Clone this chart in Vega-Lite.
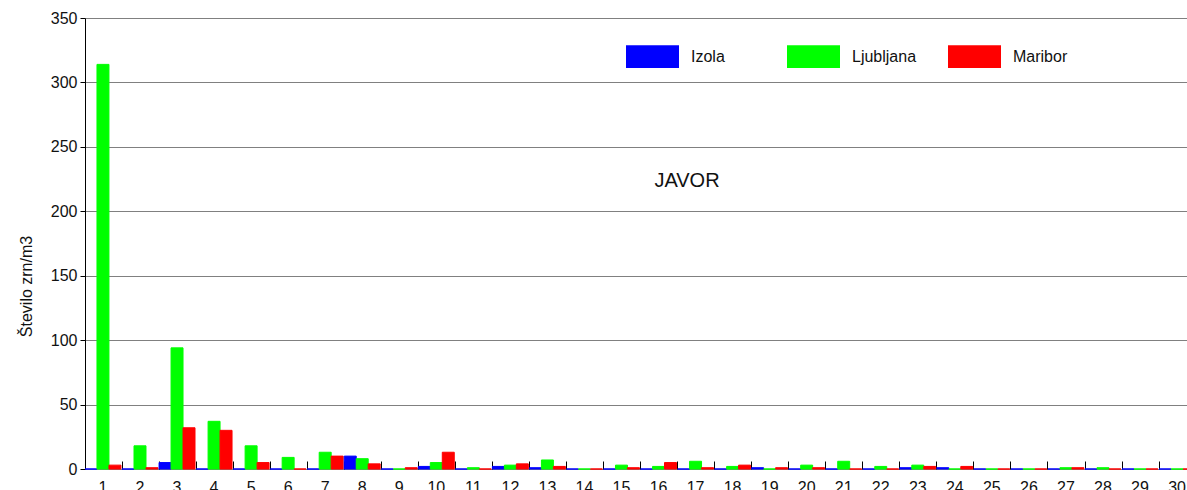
{
  "$schema": "https://vega.github.io/schema/vega-lite/v6.json",
  "autosize": "none",
  "width": 1110,
  "height": 451,
  "padding": {"left": 85, "top": 18, "right": 0, "bottom": 21},
  "background": "white",
  "title": {
    "text": "JAVOR",
    "font": "Liberation Sans",
    "fontSize": 20,
    "fontWeight": "normal",
    "color": "#111111",
    "anchor": "middle",
    "frame": "group",
    "orient": "top",
    "baseline": "alphabetic",
    "offset": 0,
    "dx": 47,
    "dy": 197
  },
  "data": {
    "values": [
      {"day": 1, "city": "Izola", "value": 0}, {"day": 1, "city": "Ljubljana", "value": 314}, {"day": 1, "city": "Maribor", "value": 3},
      {"day": 2, "city": "Izola", "value": 0}, {"day": 2, "city": "Ljubljana", "value": 18}, {"day": 2, "city": "Maribor", "value": 1},
      {"day": 3, "city": "Izola", "value": 5}, {"day": 3, "city": "Ljubljana", "value": 94}, {"day": 3, "city": "Maribor", "value": 32},
      {"day": 4, "city": "Izola", "value": 0}, {"day": 4, "city": "Ljubljana", "value": 37}, {"day": 4, "city": "Maribor", "value": 30},
      {"day": 5, "city": "Izola", "value": 0}, {"day": 5, "city": "Ljubljana", "value": 18}, {"day": 5, "city": "Maribor", "value": 5},
      {"day": 6, "city": "Izola", "value": 0}, {"day": 6, "city": "Ljubljana", "value": 9}, {"day": 6, "city": "Maribor", "value": 0},
      {"day": 7, "city": "Izola", "value": 0}, {"day": 7, "city": "Ljubljana", "value": 13}, {"day": 7, "city": "Maribor", "value": 10},
      {"day": 8, "city": "Izola", "value": 10}, {"day": 8, "city": "Ljubljana", "value": 8}, {"day": 8, "city": "Maribor", "value": 4},
      {"day": 9, "city": "Izola", "value": 0}, {"day": 9, "city": "Ljubljana", "value": 0}, {"day": 9, "city": "Maribor", "value": 1},
      {"day": 10, "city": "Izola", "value": 2}, {"day": 10, "city": "Ljubljana", "value": 5}, {"day": 10, "city": "Maribor", "value": 13},
      {"day": 11, "city": "Izola", "value": 0}, {"day": 11, "city": "Ljubljana", "value": 1}, {"day": 11, "city": "Maribor", "value": 0},
      {"day": 12, "city": "Izola", "value": 2}, {"day": 12, "city": "Ljubljana", "value": 3}, {"day": 12, "city": "Maribor", "value": 4},
      {"day": 13, "city": "Izola", "value": 1}, {"day": 13, "city": "Ljubljana", "value": 7}, {"day": 13, "city": "Maribor", "value": 2},
      {"day": 14, "city": "Izola", "value": 0}, {"day": 14, "city": "Ljubljana", "value": 0}, {"day": 14, "city": "Maribor", "value": 0},
      {"day": 15, "city": "Izola", "value": 0}, {"day": 15, "city": "Ljubljana", "value": 3}, {"day": 15, "city": "Maribor", "value": 1},
      {"day": 16, "city": "Izola", "value": 0}, {"day": 16, "city": "Ljubljana", "value": 2}, {"day": 16, "city": "Maribor", "value": 5},
      {"day": 17, "city": "Izola", "value": 0}, {"day": 17, "city": "Ljubljana", "value": 6}, {"day": 17, "city": "Maribor", "value": 1},
      {"day": 18, "city": "Izola", "value": 0}, {"day": 18, "city": "Ljubljana", "value": 2}, {"day": 18, "city": "Maribor", "value": 3},
      {"day": 19, "city": "Izola", "value": 1}, {"day": 19, "city": "Ljubljana", "value": 0}, {"day": 19, "city": "Maribor", "value": 1},
      {"day": 20, "city": "Izola", "value": 0}, {"day": 20, "city": "Ljubljana", "value": 3}, {"day": 20, "city": "Maribor", "value": 1},
      {"day": 21, "city": "Izola", "value": 0}, {"day": 21, "city": "Ljubljana", "value": 6}, {"day": 21, "city": "Maribor", "value": 0},
      {"day": 22, "city": "Izola", "value": 0}, {"day": 22, "city": "Ljubljana", "value": 2}, {"day": 22, "city": "Maribor", "value": 0},
      {"day": 23, "city": "Izola", "value": 1}, {"day": 23, "city": "Ljubljana", "value": 3}, {"day": 23, "city": "Maribor", "value": 2},
      {"day": 24, "city": "Izola", "value": 1}, {"day": 24, "city": "Ljubljana", "value": 0}, {"day": 24, "city": "Maribor", "value": 2},
      {"day": 25, "city": "Izola", "value": 0}, {"day": 25, "city": "Ljubljana", "value": 0}, {"day": 25, "city": "Maribor", "value": 0},
      {"day": 26, "city": "Izola", "value": 0}, {"day": 26, "city": "Ljubljana", "value": 0}, {"day": 26, "city": "Maribor", "value": 0},
      {"day": 27, "city": "Izola", "value": 0}, {"day": 27, "city": "Ljubljana", "value": 1}, {"day": 27, "city": "Maribor", "value": 1},
      {"day": 28, "city": "Izola", "value": 0}, {"day": 28, "city": "Ljubljana", "value": 1}, {"day": 28, "city": "Maribor", "value": 0},
      {"day": 29, "city": "Izola", "value": 0}, {"day": 29, "city": "Ljubljana", "value": 0}, {"day": 29, "city": "Maribor", "value": 0},
      {"day": 30, "city": "Izola", "value": 0}, {"day": 30, "city": "Ljubljana", "value": 0}, {"day": 30, "city": "Maribor", "value": 0}
    ]
  },
  "mark": {"type": "bar", "strokeWidth": 1},
  "encoding": {
    "x": {
      "field": "day",
      "type": "ordinal",
      "scale": {"paddingInner": 0.03, "paddingOuter": 0},
      "axis": {
        "title": null,
        "labelAngle": 0,
        "domain": false,
        "ticks": true,
        "tickSize": -8,
        "tickColor": "#000000",
        "tickWidth": 1,
        "bandPosition": 0,
        "labelPadding": 18,
        "labelBaseline": "top",
        "labelDx": -2,
        "labelFont": "Liberation Sans",
        "labelFontSize": 16,
        "labelColor": "#111111",
        "grid": false
      }
    },
    "xOffset": {"field": "city", "type": "nominal", "scale": {"padding": 0}},
    "y": {
      "field": "value",
      "type": "quantitative",
      "scale": {"domain": [0, 350], "nice": false},
      "axis": {
        "values": [0, 50, 100, 150, 200, 250, 300, 350],
        "title": "Število zrn/m3",
        "titleFont": "Liberation Sans",
        "titleFontSize": 16,
        "titleFontWeight": "normal",
        "titleColor": "#111111",
        "titleX": -54,
        "titleY": 268,
        "titleAngle": -90,
        "titleAlign": "center",
        "titleBaseline": "alphabetic",
        "labelFont": "Liberation Sans",
        "labelFontSize": 16,
        "labelColor": "#111111",
        "labelPadding": 3,
        "tickSize": 5,
        "tickColor": "#000000",
        "domainColor": "#000000",
        "grid": true,
        "gridColor": "#808080",
        "gridWidth": 1
      }
    },
    "color": {
      "field": "city",
      "type": "nominal",
      "scale": {"domain": ["Izola", "Ljubljana", "Maribor"], "range": ["#0000ff", "#00ff00", "#ff0000"]},
      "legend": {
        "title": null,
        "orient": "none",
        "legendX": 541,
        "legendY": 12,
        "direction": "horizontal",
        "columns": 3,
        "gridAlign": "all",
        "columnPadding": 31,
        "padding": 0,
        "symbolType": "M-1,-0.43h2v0.86h-2z",
        "symbolSize": 2809,
        "symbolStrokeWidth": 0,
        "symbolOpacity": 1,
        "labelOffset": 12,
        "labelFont": "Liberation Sans",
        "labelFontSize": 16,
        "labelColor": "#111111"
      }
    },
    "stroke": {
      "field": "city",
      "type": "nominal",
      "scale": {"domain": ["Izola", "Ljubljana", "Maribor"], "range": ["#0000ff", "#00ff00", "#ff0000"]},
      "legend": null
    }
  },
  "config": {
    "view": {"stroke": null}
  }
}
